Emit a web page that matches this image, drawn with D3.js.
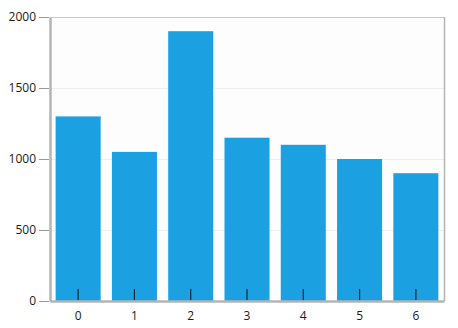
<!DOCTYPE html>
<html>
<head>
<meta charset="utf-8">
<script src="https://cdn.jsdelivr.net/npm/d3@7"></script>
<style>
  body { margin: 0; background: #fff; }
  text { font-family: "Open Sans", "Noto Sans", sans-serif; font-size: 12px; fill: #1a1a1a; }
</style>
</head>
<body>
<div id="chart"></div>
<script>
// chart data
const categories = ["0", "1", "2", "3", "4", "5", "6"];
const values = [1300, 1050, 1900, 1150, 1100, 1000, 900];
const yTicks = [0, 500, 1000, 1500, 2000];

const width = 458;
const height = 328;
const margin = { top: 17, right: 14, bottom: 27, left: 50 };
const plotW = width - margin.left - margin.right;
const plotH = height - margin.top - margin.bottom;

const svg = d3.select("#chart")
    .append("svg")
    .attr("width", width)
    .attr("height", height);

const g = svg.append("g")
    .attr("transform", `translate(${margin.left},${margin.top})`);

const x = d3.scaleBand()
    .domain(categories)
    .range([0, plotW])
    .paddingInner(0.2)
    .paddingOuter(0.1);

const y = d3.scaleLinear()
    .domain([0, 2000])
    .range([plotH, 0]);

// plot background
g.append("rect")
    .attr("width", plotW)
    .attr("height", plotH)
    .attr("fill", "#fdfdfd");

// grid lines
g.selectAll(".grid")
    .data(yTicks.filter(d => d > 0 && d < 2000))
    .enter()
    .append("line")
    .attr("x1", 0)
    .attr("x2", plotW)
    .attr("y1", d => y(d) + 0.5)
    .attr("y2", d => y(d) + 0.5)
    .attr("stroke", "#eeeeee");

// top and right frame
g.append("line")
    .attr("x1", 0).attr("x2", plotW)
    .attr("y1", 0.5).attr("y2", 0.5)
    .attr("stroke", "#c8c8c8");
g.append("line")
    .attr("x1", plotW + 0.5).attr("x2", plotW + 0.5)
    .attr("y1", 0).attr("y2", plotH)
    .attr("stroke", "#b4b4b4")
    .attr("stroke-width", 1.5);

// bars
g.selectAll(".bar")
    .data(values)
    .enter()
    .append("rect")
    .attr("class", "bar")
    .attr("x", (d, i) => x(categories[i]))
    .attr("y", d => y(d))
    .attr("width", x.bandwidth())
    .attr("height", d => plotH - y(d))
    .attr("fill", "#1ba1e2");

// y axis
const yAxis = g.append("g")
    .call(d3.axisLeft(y).tickValues(yTicks).tickFormat(d3.format("d"))
        .tickSize(10).tickPadding(4).tickSizeOuter(0))
    .attr("font-family", null).attr("font-size", null);
yAxis.select(".domain").attr("stroke", "#b4b4b4").attr("stroke-width", 2.5);
yAxis.selectAll(".tick line").attr("stroke", "#999").attr("transform", "translate(-1,0)");

// x axis, ticks pointing into the plot
const xAxis = g.append("g")
    .attr("transform", `translate(0,${plotH})`)
    .call(d3.axisBottom(x).tickSize(0).tickPadding(10).tickSizeOuter(0))
    .attr("font-family", null).attr("font-size", null);
xAxis.select(".domain").attr("stroke", "#b4b4b4").attr("stroke-width", 2.5);
xAxis.selectAll(".tick")
    .append("line")
    .attr("y1", -1)
    .attr("y2", -12)
    .attr("stroke", "#222")
    .attr("stroke-width", 1.2);
</script>
</body>
</html>
